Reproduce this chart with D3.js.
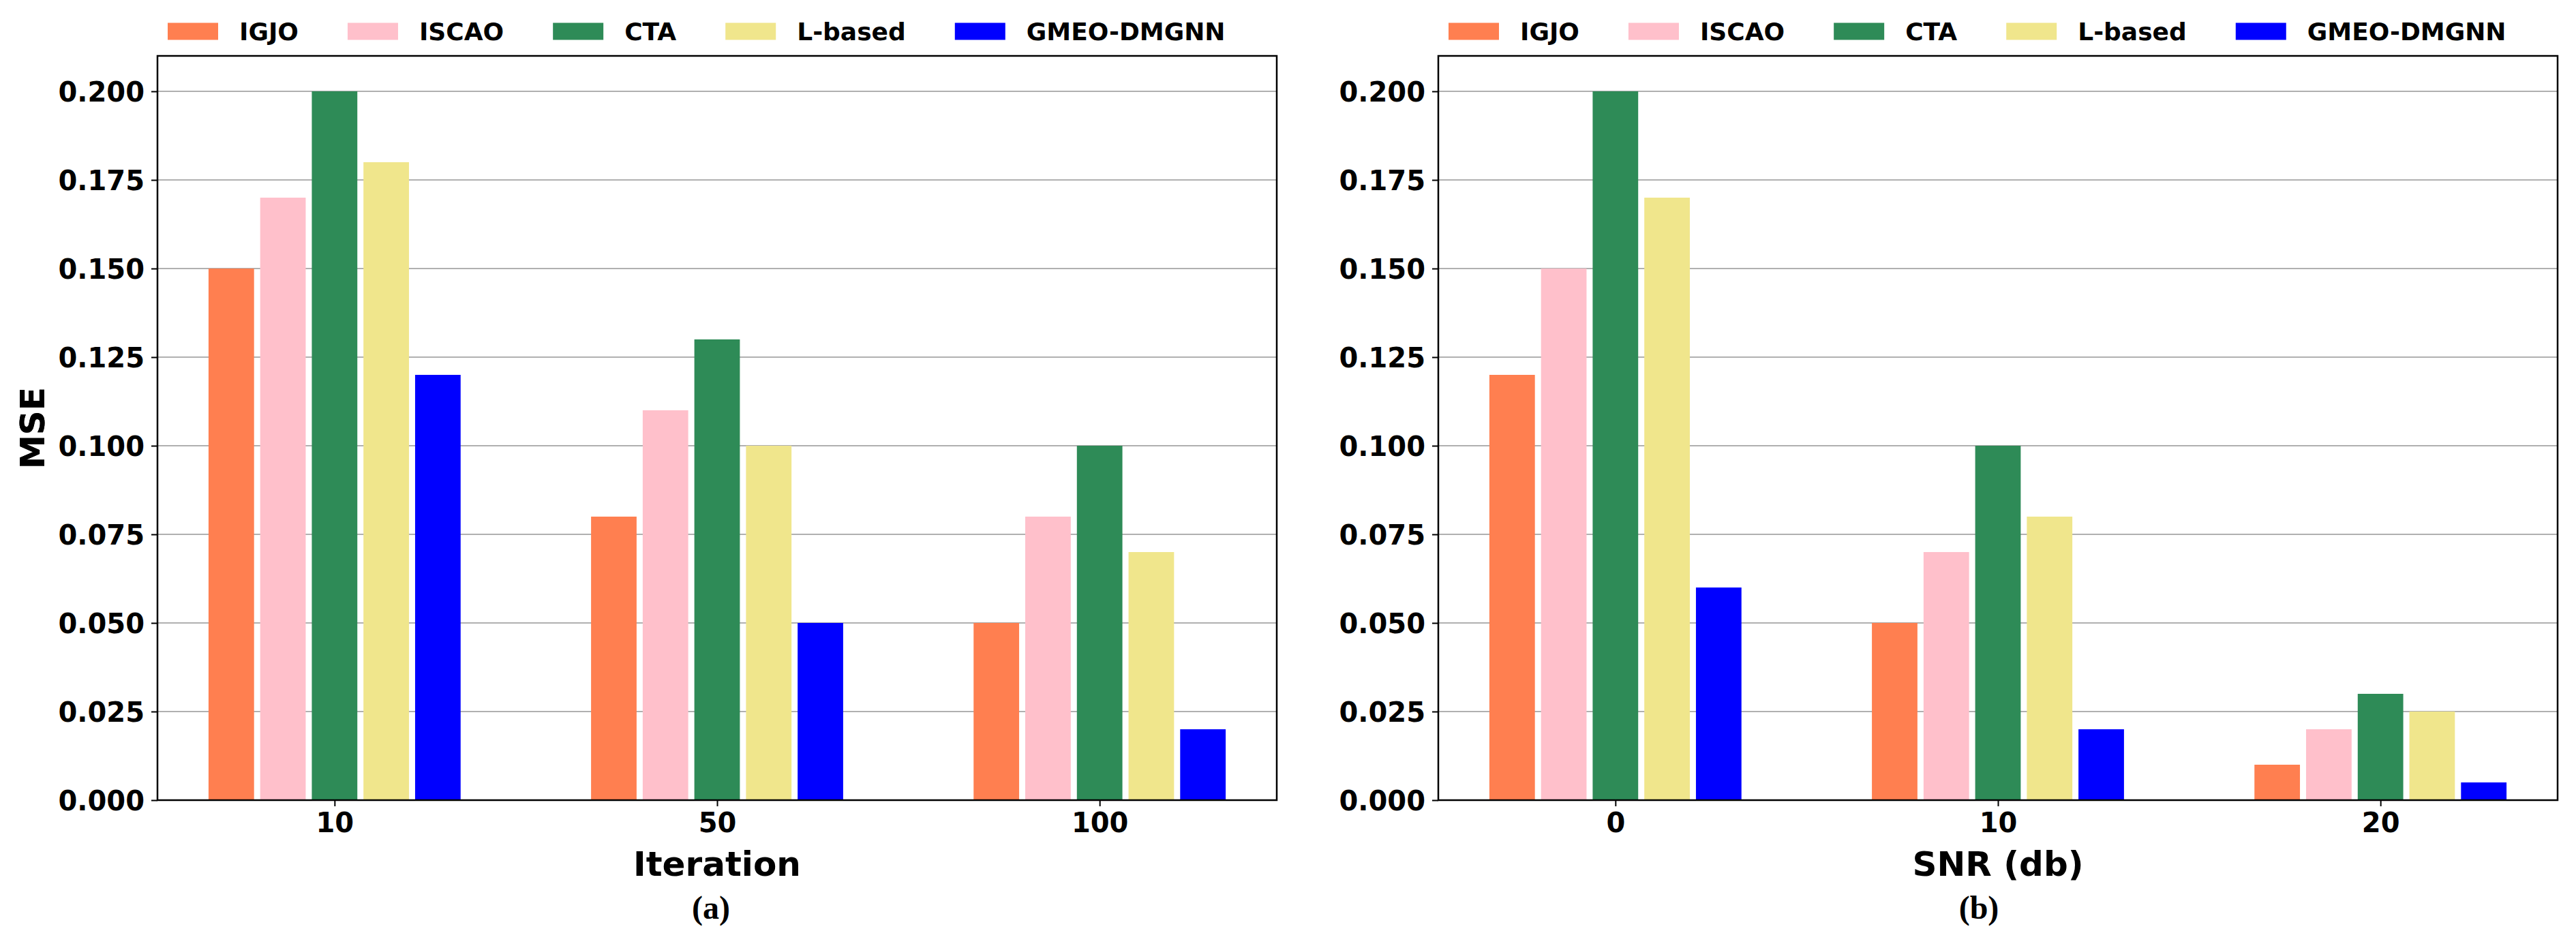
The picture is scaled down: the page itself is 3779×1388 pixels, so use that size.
<html>
<head>
<meta charset="utf-8">
<style>
    body { margin:0; background:#fff; }
    text { font-family:"DejaVu Sans", sans-serif; font-weight:bold; }
</style>
<script src="https://d3js.org/d3.v7.min.js" charset="utf-8"></script>
</head>
<body>
<svg id="chart" width="3779" height="1388"></svg>
<script>
    // data
    var methods = ["IGJO", "ISCAO", "CTA", "L-based", "GMEO-DMGNN"];
    var methodColors = ["#FF7F50", "#FFC0CB", "#2E8B57", "#F0E68C", "#0000FF"];

    var iterCats = ["10", "50", "100"];
    var iterIGJO  = [0.15, 0.08, 0.05];
    var iterISCAO = [0.17, 0.11, 0.08];
    var iterCTA   = [0.20, 0.13, 0.10];
    var iterLb    = [0.18, 0.10, 0.07];
    var iterGMEO  = [0.12, 0.05, 0.02];

    var snrCats = ["0", "10", "20"];
    var snrIGJO  = [0.12, 0.05, 0.01];
    var snrISCAO = [0.15, 0.07, 0.02];
    var snrCTA   = [0.20, 0.10, 0.03];
    var snrLb    = [0.17, 0.08, 0.025];
    var snrGMEO  = [0.06, 0.02, 0.005];

    var yTicks = [0, 0.025, 0.05, 0.075, 0.1, 0.125, 0.15, 0.175, 0.2];

    //************************************************************
    // Configuration
    //************************************************************
    var axTop = 82, axBottom = 1174, axWidth = 1642;
    var barPitch = 0.135, barWidth = 0.119;

    var color = d3.scaleOrdinal().domain(methods).range(methodColors);
    var svg = d3.select("#chart");

    function drawPanel(left, cats, series, xLabel, tag, tagX) {
        var g = svg.append("g").attr("transform", "translate(" + left + "," + axTop + ")");
        var h = axBottom - axTop;

        var x = d3.scaleLinear().domain([-0.463, cats.length - 1 + 0.463]).range([0, axWidth]);
        var y = d3.scaleLinear().domain([0, 0.21]).range([h, 0]);

        // grid lines behind the bars
        g.selectAll("line.grid")
            .data(yTicks)
            .enter().append("line")
            .attr("class", "grid")
            .attr("x1", 0).attr("x2", axWidth)
            .attr("y1", function(d) { return y(d); })
            .attr("y2", function(d) { return y(d); })
            .attr("stroke", "#b0b0b0")
            .attr("stroke-width", 2);

        // bars, one group per method
        series.forEach(function(vals, j) {
            g.selectAll("rect.s" + j)
                .data(vals)
                .enter().append("rect")
                .attr("class", "s" + j)
                .attr("x", function(d, i) { return x(i + (j - 2) * barPitch - barWidth / 2); })
                .attr("width", x(barWidth) - x(0))
                .attr("y", function(d) { return y(d); })
                .attr("height", function(d) { return h - y(d); })
                .attr("fill", color(methods[j]));
        });

        // axes
        var yAxis = d3.axisLeft(y).tickValues(yTicks).tickFormat(d3.format(".3f"))
            .tickSize(9).tickPadding(10);
        var ya = g.append("g").call(yAxis);
        ya.select(".domain").remove();
        ya.selectAll("text").attr("font-size", 40).attr("font-family", "DejaVu Sans")
            .attr("font-weight", "bold").attr("fill", "#000").attr("dy", "0.36em");
        ya.selectAll("line").attr("stroke-width", 2);

        var xAxis = d3.axisBottom(x).tickValues(d3.range(cats.length))
            .tickFormat(function(d) { return cats[d]; })
            .tickSize(9).tickPadding(10);
        var xa = g.append("g").attr("transform", "translate(0," + h + ")").call(xAxis);
        xa.select(".domain").remove();
        xa.selectAll("text").attr("font-size", 40).attr("font-family", "DejaVu Sans")
            .attr("font-weight", "bold").attr("fill", "#000");
        xa.selectAll("line").attr("stroke-width", 2);

        // frame
        g.append("rect")
            .attr("width", axWidth).attr("height", h)
            .attr("fill", "none").attr("stroke", "#000").attr("stroke-width", 2.5);

        // axis titles
        g.append("text")
            .attr("x", axWidth / 2).attr("y", 1285 - axTop)
            .attr("text-anchor", "middle").attr("font-size", 50)
            .text(xLabel);
        g.append("text")
            .attr("transform", "translate(" + (65 - left) + "," + (h / 2) + ") rotate(-90)")
            .attr("text-anchor", "middle").attr("font-size", 50)
            .text("MSE");

        // (a)/(b) caption
        svg.append("text")
            .attr("x", tagX).attr("y", 1348)
            .attr("text-anchor", "middle")
            .attr("font-size", 48)
            .style("font-family", "'Liberation Serif', 'Times New Roman', serif")
            .text(tag);

        // legend across the top
        var lx = left + 15;
        methods.forEach(function(m) {
            svg.append("rect")
                .attr("x", lx).attr("y", 33.5)
                .attr("width", 74).attr("height", 25)
                .attr("fill", color(m));
            var t = svg.append("text")
                .attr("x", lx + 74 + 31).attr("y", 58.5)
                .attr("font-size", 36)
                .text(m);
            lx = lx + 74 + 31 + t.node().getComputedTextLength() + 72;
        });
    }

    drawPanel(231, iterCats, [iterIGJO, iterISCAO, iterCTA, iterLb, iterGMEO], "Iteration", "(a)", 1043);
    drawPanel(2110, snrCats, [snrIGJO, snrISCAO, snrCTA, snrLb, snrGMEO], "SNR (db)", "(b)", 2903);
</script>
</body>
</html>
